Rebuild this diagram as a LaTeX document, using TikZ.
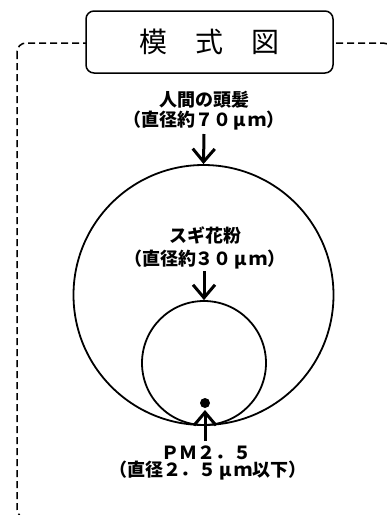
\documentclass[tikz,border=0pt]{standalone}
\usepackage{fontspec}
\newfontfamily\jp{Noto Sans CJK JP}
\usetikzlibrary{arrows.meta}
\begin{document}
\begin{tikzpicture}[x=1pt,y=-1pt,
  lbl/.style={font=\jp\bfseries\fontsize{18}{21}\selectfont, inner sep=0pt},
  arr/.style={line width=3pt, -{Straight Barb[length=13pt,width=22pt,line width=3pt]}},
  ring/.style={circle, draw, line width=1.8pt, inner sep=0pt},
  frame/.style={dash pattern=on 7pt off 4pt, line width=1.5pt, rounded corners=9pt}]
\useasboundingbox (0,0) rectangle (387,515);
\begin{scope}
\clip (0,0) rectangle (387,515);
\draw[frame] (17,43) rectangle (392,518);
\end{scope}
\node[draw, line width=1.5pt, rounded corners=8pt, fill=white, minimum width=247pt, minimum height=62pt, inner sep=0pt, font=\jp\fontsize{28}{28}\selectfont] (title) at (209.5,42) {模　式　図};
% circles
\node[ring, minimum size=260pt] (big) at (203.5,295) {};
\node[ring, minimum size=124pt] (small) at (204,363) {};
% hair
\node[lbl] (hair1) at (204,100) {人間の頭髪};
\node[lbl] (hair2) at (204,121) {（直径約７０\makebox[1em]{μ}ｍ）};
\coordinate (h0) at (204,134);
\draw[arr] (h0) -- (big.north);
% pollen
\node[lbl] (pol1) at (205,235) {スギ花粉};
\node[lbl] (pol2) at (205,260) {（直径約３０\makebox[1em]{μ}ｍ）};
\coordinate (p0) at (204,271);
\draw[arr] (p0) -- (small.north);
% PM2.5
\node[circle, fill, inner sep=0pt, minimum size=10pt] (dot) at (205,403) {};
\coordinate (d0) at (205,441);
\coordinate (d1) at (205,410);
\draw[arr] (d0) -- (d1);
\node[lbl] (pm1) at (206,453) {ＰＭ２．５};
\node[lbl] (pm2) at (208,471) {（直径２．５\makebox[1em]{μ}ｍ以下）};
\end{tikzpicture}
\end{document}
